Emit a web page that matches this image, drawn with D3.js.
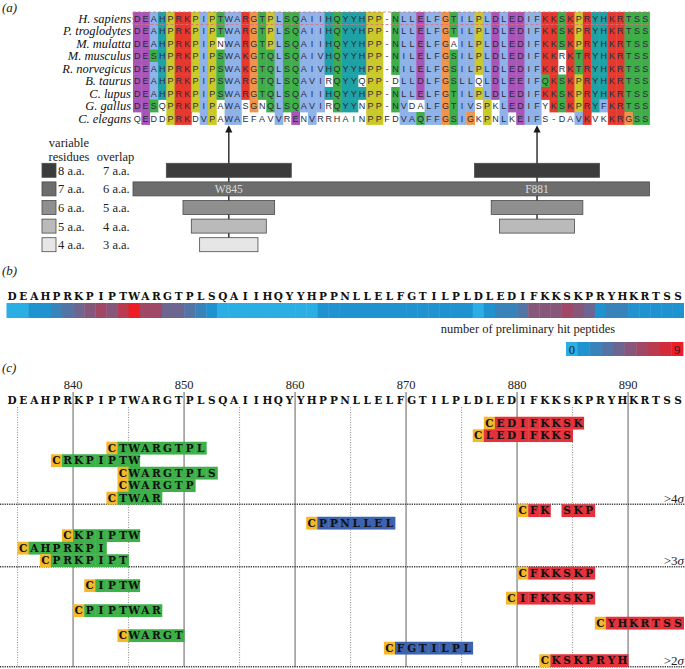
<!DOCTYPE html>
<html><head><meta charset="utf-8">
<script src="https://cdn.jsdelivr.net/npm/d3@7"></script>
<style>body{margin:0;background:#fff} svg{display:block}</style>
</head><body><svg id="chart" width="685" height="669"></svg>
<script>
// ---------------- DATA ----------------
// (a) alignment
const species = ["H. sapiens","P. troglodytes","M. mulatta","M. musculus","R. norvegicus","B. taurus","C. lupus","G. gallus","C. elegans"];
const alignment = [
"DEAHPRKPIPTWARGTPLSQAIIHQYYHPP-NLLELFGTILPLDLEDIFKKSKPRYHKRTSS",
"DEAHPRKPIPTWARGTPLSQAIIHQYYHPP-NLLELFGTILPLDLEDIFKKSKPRYHKRTSS",
"DEAHPRKPIPNWARGTPLSQAIIHQYYHPP-NLLELFGAILPLDLEDIFKKSKPRYHKRTSS",
"DESHPRKPIPSWAKGTQLSQAIVHQYYHPP-NILELFGSILPLDLEDIFKKRKTRYHKRTSS",
"DEAHPRKPIPSWAKGTQLSQAIVHQYYHPP-NILELFGSILPLDLEDIFKKRKTRYHKRTSS",
"DEAHPRKPIPSWARGTQLSQAVIRQYYQPP-DLLDLFGSLLQLDLEEIFQKSKPRYHKRTSS",
"DEAHPRKPIPSWARGTQLSQAIIHQYYHPP-NLLELFGTILPLDLEDIFKKSKPRYHKRTSS",
"DESQPRKPIPAWASGNQLSQAVIRQYYNPP-NVDALFGTIVSPKLEDIFYKSKPRYFKRTSS",
"QEDDPRKDVPAWAEFAVVRENVRRHAINPPFDVAQFFGSIGKPNLKEIFS-DAVKVKKRGSS"];
// columns shown without colour (unconserved) per species row
const unconserved = [[],[],[10,38],[51],[51],[23,27,31,41],[],
  [3,10,13,15,23,27,33,34,41,43,49],
  [0,2,3,7,10,13,14,15,16,18,20,22,23,24,25,26,27,30,31,41,43,45,49,51,52,55,56]];
const siteLabels = ["W845","F881"];
const siteColumns = [11, 48];
const variableResidues = [8,7,6,5,4];
const overlapResidues = [7,6,5,4,3];
const siteLevels = [[8,6,5,4],[8,6,5]];
const fullSpanLevel = 7;

// (b) hit-count heat strip
const sequence = "DEAHPRKPIPTWARGTPLSQAIIHQYYHPPNLLELFGTILPLDLEDIFKKSKPRYHKRTSS";
const firstResidue = 834;
const hitCounts = [0,0,1,1,2,3,4,5,6,5,7,9,6,6,4,4,3,2,1,0,0,0,0,0,0,0,0,0,
  1,1,1,1,1,1,1,1,1,1,1,1,1,1,0,1,2,2,3,5,5,5,6,5,4,1,2,2,1,1,1,1,1];
const countLegend = [0,1,2,3,4,5,6,7,8,9];

// (c) peptides
const majorTicks = [840,850,860,870,880,890];
const minorTicks = [835,845,855,865,875,885];
const pepSeqs   = ["EDIFKKSK","LEDIFKKS","TWARGTPL","RKPIPTW","WARGTPLS","WARGTP","TWAR",
                   "FK SKP","PPNLLEL","KPIPTW","AHPRKPI","PRKPIPT",
                   "FKKSKP","IPTW","IFKKSKP","PIPTWAR","YHKRTSS","WARGT","FGTILPL","KSKPRYH"];
const pepStarts = [878,877,844,839,845,845,844, 881,862,840,836,838, 881,842,880,841,888,845,869,883];
const pepGroups = ["F","F","W","W","W","W","W", "F","M","W","W","W", "F","W","F","W","F","W","M","F"];
const sigmaLabels = [">4", ">3", ">2"];
const sigmaBreaks = [7, 12, 20];

// ---------------- STYLE ----------------
const svg = d3.select("#chart");
const SERIF = "'Liberation Serif','Times New Roman',serif";
const SLAB = "'DejaVu Serif',serif";
const clustal = r => {
  if ("AILMFWV".includes(r)) return "#8fb3e9";
  if ("KR".includes(r)) return "#e5392f";
  if ("DE".includes(r)) return "#a955b8";
  if ("NQST".includes(r)) return "#3fae49";
  if (r === "G") return "#f0944a";
  if (r === "P") return "#c9c92a";
  if ("HY".includes(r)) return "#1fa2a6";
  return "#fff";
};
const barFill = {8:"#3c3c3c",7:"#6d6d6d",6:"#8f8f8f",5:"#bababa",4:"#e6e6e6"};
const pepFill = {W:"#3db049", M:"#3d63ae", F:"#e3323b"};
const cFill = "#f5b82a";

// panel labels
[["(a)",12],["(b)",275],["(c)",372]].forEach(([t,y]) =>
  svg.append("text").attr("x",2).attr("y",y).attr("font-family",SERIF)
    .attr("font-style","italic").attr("font-size",13).attr("fill","#222").text(t));

// ---------------- (a) ----------------
const nCols = alignment[0].length;
const xA = d3.scaleLinear().domain([0,nCols]).range([133,649.5]);
const yA = d3.scaleBand().domain(d3.range(species.length)).range([12,124.5]);
const cw = xA(1)-xA(0), rh = yA.bandwidth();
const ga = svg.append("g");
alignment.forEach((s,r) => {
  s.split("").forEach((ch,c) => {
    const col = (ch === "-" || unconserved[r].includes(c)) ? "#fff" : clustal(ch);
    if (col !== "#fff")
      ga.append("rect").attr("x",xA(c)).attr("y",yA(r)).attr("width",cw+0.4).attr("height",rh+0.4).attr("fill",col);
  });
});
alignment.forEach((s,r) => {
  s.split("").forEach((ch,c) => {
    ga.append("text").attr("x",xA(c+0.5)).attr("y",yA(r)+rh/2+3.3).attr("text-anchor","middle")
      .attr("font-family","'Liberation Sans',Arial,sans-serif").attr("font-size",9)
      .attr("fill","#2b2b3b").text(ch);
  });
  ga.append("text").attr("x",131).attr("y",yA(r)+rh/2+4.3).attr("text-anchor","end")
    .attr("font-family",SERIF).attr("font-style","italic").attr("font-size",12.5).attr("fill","#111").text(species[r]);
});
ga.append("rect").attr("x",xA(0)).attr("y",yA(0)).attr("width",xA(nCols)-xA(0)).attr("height",rh)
  .attr("fill","none").attr("stroke","#e06a78").attr("stroke-width",0.8).attr("stroke-dasharray","3,2");

// bars
const yBar = d3.scalePoint().domain(variableResidues).range([163.3,237.7]);
const bh = 14;
siteColumns.forEach((c,i) => {
  const lowest = d3.min(siteLevels[i]);
  const x = xA(c+0.5);
  svg.append("line").attr("x1",x).attr("x2",x).attr("y1",131).attr("y2",yBar(lowest)+bh/2)
    .attr("stroke","#333").attr("stroke-width",1.5);
  svg.append("path").attr("d",`M${x},125.3L${x-3.6},132.5L${x+3.6},132.5Z`).attr("fill","#1a1a1a");
});
siteColumns.forEach((c,i) => {
  siteLevels[i].forEach(n => {
    svg.append("rect").attr("x",xA(c-n+1)).attr("y",yBar(n)).attr("width",xA(c+n)-xA(c-n+1)).attr("height",bh)
      .attr("fill",barFill[n]).attr("stroke","#4a4a4a").attr("stroke-width",0.8);
  });
});
svg.append("rect").attr("x",xA(0)).attr("y",yBar(fullSpanLevel)).attr("width",xA(nCols)-xA(0)).attr("height",bh)
  .attr("fill",barFill[fullSpanLevel]).attr("stroke","#4a4a4a").attr("stroke-width",0.8);
siteColumns.forEach((c,i) => {
  svg.append("text").attr("x",xA(c+0.5)).attr("y",yBar(fullSpanLevel)+bh/2+4).attr("text-anchor","middle")
    .attr("font-family",SERIF).attr("font-size",11.5).attr("fill","#dcdcdc").text(siteLabels[i]);
});
// legend
svg.append("text").attr("x",69).attr("y",147).attr("text-anchor","middle").attr("font-family",SERIF).attr("font-size",12.5).attr("fill","#222").text("variable");
svg.append("text").attr("x",69).attr("y",161).attr("text-anchor","middle").attr("font-family",SERIF).attr("font-size",12.5).attr("fill","#222").text("residues");
svg.append("text").attr("x",115.5).attr("y",161).attr("text-anchor","middle").attr("font-family",SERIF).attr("font-size",12.5).attr("fill","#222").text("overlap");
variableResidues.forEach((n,i) => {
  svg.append("rect").attr("x",42).attr("y",yBar(n)).attr("width",14).attr("height",bh)
    .attr("fill",barFill[n]).attr("stroke","#4a4a4a").attr("stroke-width",0.8);
  svg.append("text").attr("x",58).attr("y",yBar(n)+11.5).attr("font-family",SERIF).attr("font-size",12.5).attr("fill","#222").text(n+" a.a.");
  svg.append("text").attr("x",103).attr("y",yBar(n)+11.5).attr("font-family",SERIF).attr("font-size",12.5).attr("fill","#222").text(overlapResidues[i]+" a.a.");
});

// ---------------- (b) ----------------
const xS = d3.scaleLinear().domain([firstResidue, firstResidue+sequence.length]).range([6.5, 683.6]);
const step = xS(firstResidue+1)-xS(firstResidue);
const heat = d3.scaleLinear().domain([0,1,9]).range(["#2aaee4","#1f92d0","#ee1c25"]).interpolate(d3.interpolateRgb);
const drawSeq = (y) => sequence.split("").forEach((ch,i) =>
  svg.append("text").attr("x",xS(firstResidue+i+0.5)).attr("y",y).attr("text-anchor","middle")
    .attr("font-family",SLAB).attr("font-weight","bold").attr("font-size",10.5).attr("fill","#111").text(ch));
drawSeq(300);
hitCounts.forEach((v,i) => {
  svg.append("rect").attr("x",xS(firstResidue+i)).attr("y",303).attr("width",step+0.4).attr("height",15).attr("fill",heat(v));
});
svg.append("text").attr("x",528).attr("y",333).attr("text-anchor","middle").attr("font-family",SERIF).attr("font-size",12.5).attr("fill","#222").text("number of preliminary hit peptides");
const xL = d3.scaleBand().domain(countLegend).range([566,683]);
countLegend.forEach(v => svg.append("rect").attr("x",xL(v)).attr("y",342).attr("width",xL.bandwidth()+0.4).attr("height",14).attr("fill",heat(v)));
[countLegend[0], countLegend[countLegend.length-1]].forEach(v =>
  svg.append("text").attr("x",xL(v)+xL.bandwidth()/2).attr("y",353.5).attr("text-anchor","middle")
    .attr("font-family",SERIF).attr("font-size",12.5).attr("fill","#1a1a2a").text(v));

// ---------------- (c) ----------------
const yR = d3.scaleBand().domain(d3.range(20)).range([416.75, 666.75]);
const gc = svg.append("g");
minorTicks.forEach(t => gc.append("line").attr("x1",xS(t)).attr("x2",xS(t)).attr("y1",407).attr("y2",667)
  .attr("stroke","#8a8a8a").attr("stroke-width",1).attr("stroke-dasharray","1,1.5"));
majorTicks.forEach(t => {
  gc.append("line").attr("x1",xS(t)).attr("x2",xS(t)).attr("y1",392).attr("y2",667)
    .attr("stroke","#9c9c9c").attr("stroke-width",1.6);
  gc.append("text").attr("x",xS(t)).attr("y",389).attr("text-anchor","middle").attr("font-family",SERIF)
    .attr("font-size",12.5).attr("fill","#222").text(t);
});
drawSeq(404);
sigmaBreaks.forEach((b,i) => {
  const y = yR(b-1)+yR.bandwidth();
  gc.append("line").attr("x1",0).attr("x2",685).attr("y1",y).attr("y2",y)
    .attr("stroke","#444").attr("stroke-width",1.4).attr("stroke-dasharray","1.3,1");
  const t = gc.append("text").attr("x",684).attr("y",y-1.5).attr("text-anchor","end").attr("font-family",SERIF)
    .attr("font-size",13).attr("fill","#222");
  t.append("tspan").text(sigmaLabels[i]);
  t.append("tspan").attr("font-style","italic").text("σ");
});
pepSeqs.forEach((s,r) => {
  const y = yR(r), h = yR.bandwidth()+0.3;
  const cells = [{ch:"C",pos:pepStarts[r]-1,fill:cFill}]
    .concat(s.split("").map((ch,k) => ({ch, pos:pepStarts[r]+k, fill:pepFill[pepGroups[r]]})))
    .filter(d => d.ch !== " ");
  cells.forEach(d => gc.append("rect").attr("x",xS(d.pos)).attr("y",y).attr("width",step+0.4).attr("height",h).attr("fill",d.fill));
  cells.forEach(d => gc.append("text").attr("x",xS(d.pos+0.5)).attr("y",y+h/2+3.7).attr("text-anchor","middle")
    .attr("font-family",SLAB).attr("font-weight","bold").attr("font-size",10.5).attr("fill","#111").text(d.ch));
});
</script></body></html>
